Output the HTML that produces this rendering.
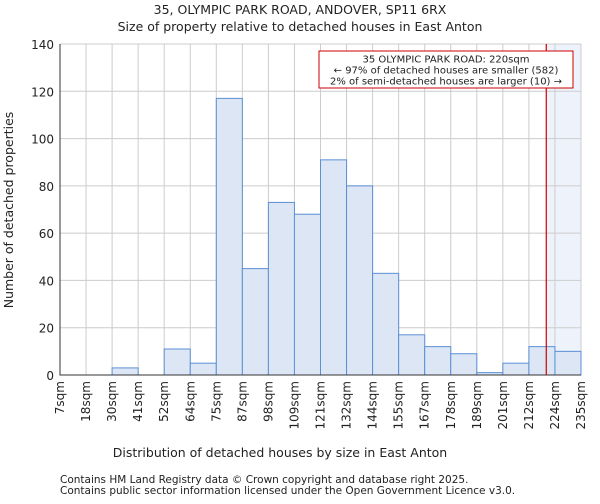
<!DOCTYPE html>
<html><head><meta charset="utf-8"><style>
body{margin:0;background:#fff;font-family:"DejaVu Sans","Liberation Sans",sans-serif;}
svg text{font-family:"DejaVu Sans","Liberation Sans",sans-serif;fill:#222;}
</style></head><body>
<svg id="chart" width="600" height="500">
<text x="300" y="14" text-anchor="middle" font-size="12.5">35, OLYMPIC PARK ROAD, ANDOVER, SP11 6RX</text>
<text x="300" y="31" text-anchor="middle" font-size="12.5">Size of property relative to detached houses in East Anton</text>
<g id="grid"></g><g id="bars"></g><g id="axes"></g>
<text x="280" y="457" text-anchor="middle" font-size="12.5">Distribution of detached houses by size in East Anton</text>
<text transform="translate(13,210) rotate(-90)" text-anchor="middle" font-size="12.5">Number of detached properties</text>
<text x="60" y="483" font-size="10.5" fill="#444">Contains HM Land Registry data © Crown copyright and database right 2025.</text>
<text x="60" y="494" font-size="10.5" fill="#444">Contains public sector information licensed under the Open Government Licence v3.0.</text>
</svg>
<script>
const binLabels=["7sqm","18sqm","30sqm","41sqm","52sqm","64sqm","75sqm","87sqm","98sqm","109sqm","121sqm","132sqm","144sqm","155sqm","167sqm","178sqm","189sqm","201sqm","212sqm","224sqm","235sqm"];
const binEdges=[7,18,30,41,52,64,75,87,98,109,121,132,144,155,167,178,189,201,212,224,235];
const counts=[0,0,3,0,11,5,117,45,73,68,91,80,43,17,12,9,1,5,12,10];
const yTicks=[0,20,40,60,80,100,120,140];
const subject=220;
const L=60,R=581,T=44,B=375,yMax=140;
const NS="http://www.w3.org/2000/svg";
const n=counts.length, bw=(R-L)/n;
const xi=i=>L+i*bw;
const xv=v=>{for(let i=0;i<binEdges.length-1;i++){if(v<=binEdges[i+1])return xi(i)+(v-binEdges[i])/(binEdges[i+1]-binEdges[i])*bw;}return R;};
const y=v=>B-v/yMax*(B-T);
function mk(tag,attrs,parent){const e=document.createElementNS(NS,tag);for(const k in attrs)e.setAttribute(k,attrs[k]);parent.appendChild(e);return e;}
const grid=document.getElementById('grid'),bars=document.getElementById('bars'),axes=document.getElementById('axes');
const sx=xv(subject);
const sh=mk('rect',{x:sx,y:T,width:R-sx,height:B-T,fill:'#eef3fb'},grid);


for(let i=0;i<=n;i++){const l=mk('line',{x1:xi(i),x2:xi(i),y1:T,y2:B,stroke:'#ccc','stroke-width':1},grid);

}
yTicks.forEach(t=>{const l=mk('line',{x1:L,x2:R,y1:y(t),y2:y(t),stroke:'#ccc','stroke-width':1},grid);


const tx=mk('text',{x:L-6,y:y(t)+5,'text-anchor':'end','font-size':12},axes);tx.textContent=t;

});
counts.forEach((c,i)=>{if(c<=0)return;const r=mk('rect',{x:xi(i),y:y(c),width:bw,height:B-y(c),fill:'#dce6f4',stroke:'#5b8fd6','stroke-width':1},bars);

});
binLabels.forEach((lb,i)=>{const tx=mk('text',{transform:`translate(${xi(i)+4},381) rotate(-90)`,'text-anchor':'end','font-size':12},axes);tx.textContent=lb;

});
const ax=mk('path',{d:`M${L},${T}V${B}H${R}`,fill:'none',stroke:'#333','stroke-width':1},axes);


const rl=mk('line',{x1:sx,x2:sx,y1:T,y2:B,stroke:'#cc0000','stroke-width':1.2},axes);


const g=mk('g',{},axes);


mk('rect',{x:319,y:51,width:254,height:37,fill:'#fff',stroke:'#cc0000','stroke-width':1},g);
["35 OLYMPIC PARK ROAD: 220sqm","← 97% of detached houses are smaller (582)","2% of semi-detached houses are larger (10) →"].forEach((s,i)=>{const t=mk('text',{x:446,y:62.5+i*11,'text-anchor':'middle','font-size':10},g);t.textContent=s;});
</script>
</body></html>
